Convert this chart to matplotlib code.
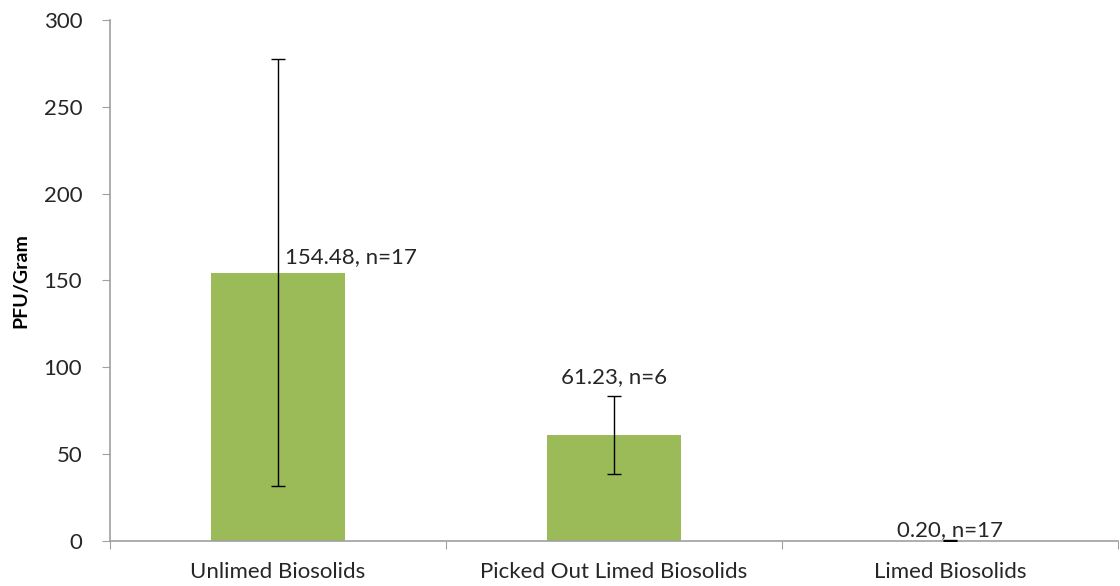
import matplotlib.pyplot as plt

categories = ['Unlimed Biosolids', 'Picked Out Limed Biosolids', 'Limed Biosolids']
means = [154.48, 61.23, 0.20]
errors = [123.0, 22.5, 0.3]
counts = [17, 6, 17]

plt.rcParams['font.family'] = ['Lato', 'DejaVu Sans']

fig = plt.figure(figsize=(11.2, 5.86), dpi=100)
ax = fig.add_axes([0.0982, 0.0768, 0.8998, 0.8891])

x = list(range(len(categories)))
ax.bar(x, means, width=0.4, color='#9BBB59', zorder=2)
ax.errorbar(x, means, yerr=errors, fmt='none', ecolor='black',
            elinewidth=1, capsize=5, capthick=1, zorder=3)

# data labels
for i, (m, e, n) in enumerate(zip(means, errors, counts)):
    txt = f'{m:.2f}, n={n}'
    if i == 0:
        ax.text(i + 0.02, m + 3, txt, ha='left', va='bottom', fontsize=16, color='#262626')
    elif i == 1:
        ax.text(i, m + e + 5, txt, ha='center', va='bottom', fontsize=16, color='#262626')
    else:
        ax.text(i, m + 0.5, txt, ha='center', va='bottom', fontsize=16, color='#262626')

ax.set_xlim(-0.5, len(categories) - 0.5)
ax.set_ylim(0, 300)
ax.set_yticks(range(0, 301, 50))
ax.set_xticks([i - 0.5 for i in range(len(categories) + 1)])
ax.set_xticklabels([])
ax.set_xticks(x, minor=True)
ax.set_xticklabels(categories, minor=True, fontsize=16, color='#262626')
ax.tick_params(axis='x', which='minor', length=0, pad=15)
ax.tick_params(axis='x', which='major', length=6, color='#A0A0A0')
ax.tick_params(axis='y', length=6, color='#A0A0A0', labelsize=16, labelcolor='#262626', pad=14)

for s in ['top', 'right']:
    ax.spines[s].set_visible(False)
for s in ['left', 'bottom']:
    ax.spines[s].set_color('#A0A0A0')
    ax.spines[s].set_linewidth(1.2)

ax.set_ylabel('PFU/Gram', fontsize=14, fontweight='bold')
ax.yaxis.set_label_coords(-0.08, 0.5)

fig.savefig('out.png', dpi=100)
